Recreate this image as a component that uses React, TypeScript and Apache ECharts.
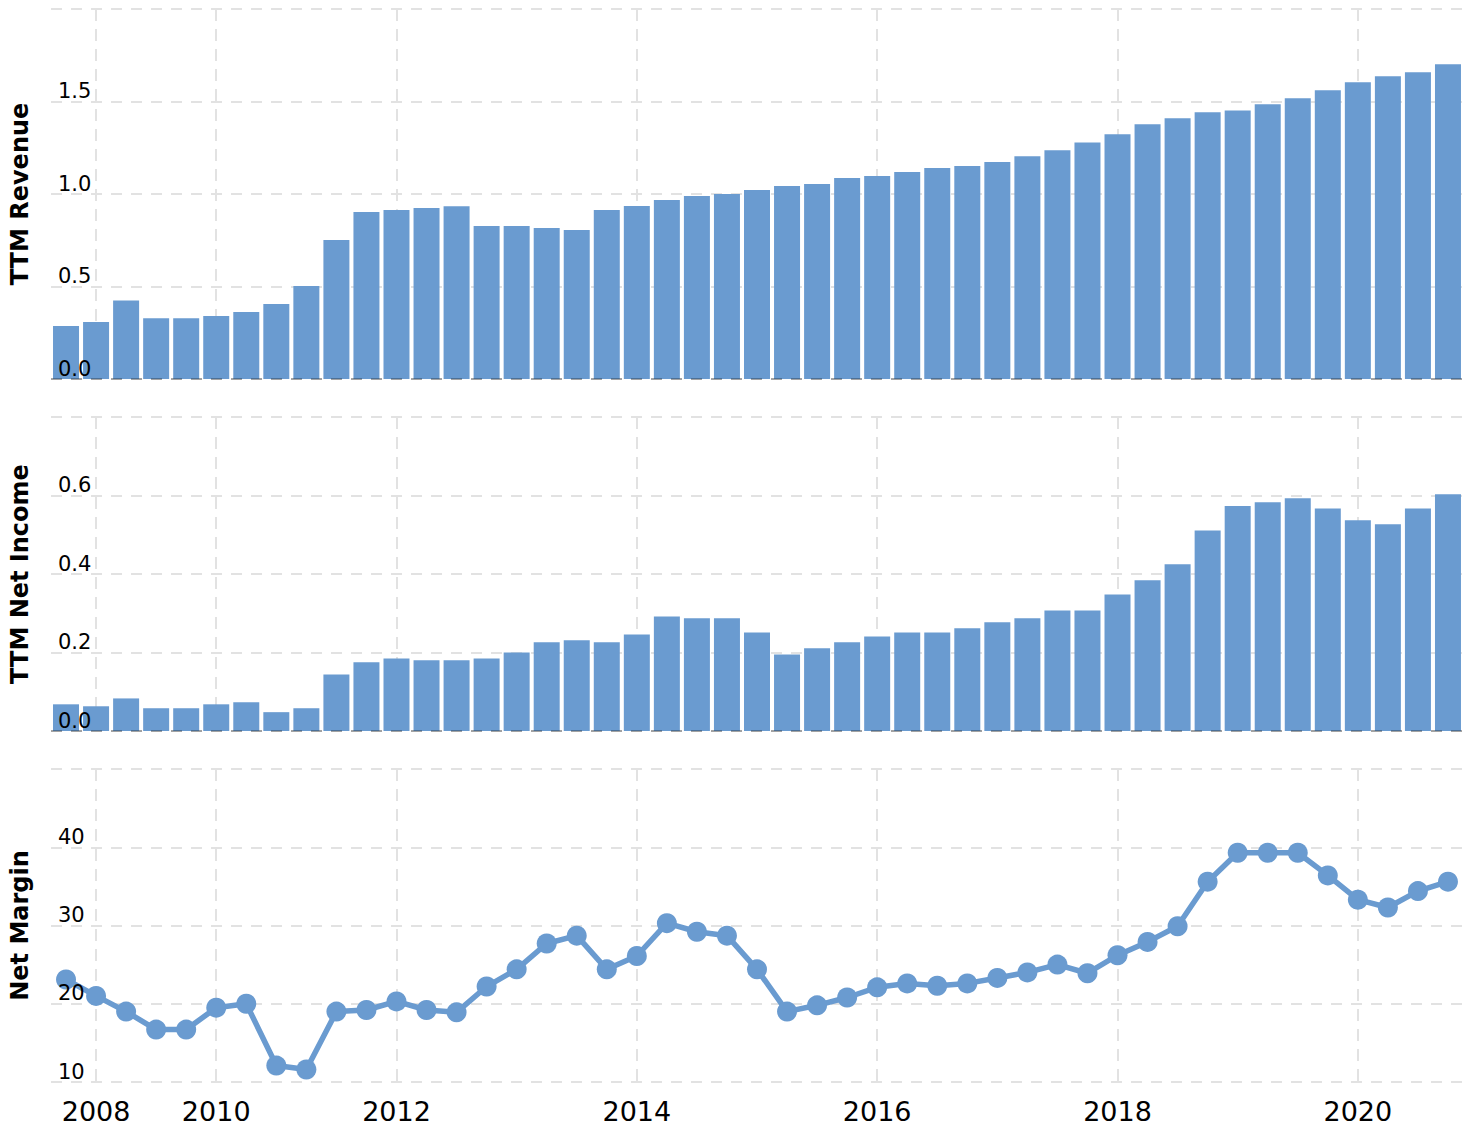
import React, { useEffect, useRef } from "react";
import * as echarts from "echarts";

const categories = [
  "2007-09-30", "2007-12-31", "2008-06-30", "2008-12-31", "2009-06-30", "2009-12-31",
  "2010-06-30", "2010-12-31", "2011-03-31", "2011-06-30", "2011-09-30", "2011-12-31",
  "2012-03-31", "2012-06-30", "2012-09-30", "2012-12-31",
  "2013-03-31", "2013-06-30", "2013-09-30", "2013-12-31",
  "2014-03-31", "2014-06-30", "2014-09-30", "2014-12-31",
  "2015-03-31", "2015-06-30", "2015-09-30", "2015-12-31",
  "2016-03-31", "2016-06-30", "2016-09-30", "2016-12-31",
  "2017-03-31", "2017-06-30", "2017-09-30", "2017-12-31",
  "2018-03-31", "2018-06-30", "2018-09-30", "2018-12-31",
  "2019-03-31", "2019-06-30", "2019-09-30", "2019-12-31",
  "2020-03-31", "2020-06-30", "2020-09-30",
];

const revenue = [
  0.286, 0.308, 0.425, 0.328, 0.328, 0.341, 0.362, 0.405, 0.503, 0.751,
  0.903, 0.914, 0.924, 0.934, 0.827, 0.827, 0.816, 0.805, 0.914, 0.935,
  0.968, 0.989, 1.0, 1.022, 1.043, 1.054, 1.086, 1.097, 1.119, 1.141,
  1.151, 1.173, 1.204, 1.236, 1.279, 1.323, 1.377, 1.409, 1.442, 1.452,
  1.485, 1.517, 1.561, 1.604, 1.636, 1.658, 1.701,
];

const netIncome = [
  0.068, 0.063, 0.083, 0.058, 0.058, 0.068, 0.073, 0.048, 0.058, 0.144,
  0.175, 0.185, 0.18, 0.18, 0.185, 0.2, 0.226, 0.231, 0.226, 0.246,
  0.292, 0.287, 0.287, 0.251, 0.195, 0.211, 0.226, 0.241, 0.251, 0.251,
  0.262, 0.277, 0.287, 0.307, 0.307, 0.348, 0.384, 0.425, 0.511, 0.573,
  0.583, 0.593, 0.567, 0.537, 0.527, 0.567, 0.603,
];

const netMargin = [
  23.1, 21.0, 19.0, 16.7, 16.7, 19.5, 20.0, 12.1, 11.6, 19.0,
  19.2, 20.3, 19.2, 18.9, 22.2, 24.4, 27.7, 28.7, 24.4, 26.1,
  30.3, 29.2, 28.7, 24.4, 19.0, 19.8, 20.8, 22.1, 22.6, 22.3,
  22.6, 23.3, 24.0, 25.0, 23.9, 26.2, 27.9, 29.9, 35.6, 39.3,
  39.3, 39.3, 36.4, 33.3, 32.3, 34.4, 35.6,
];

const xTickIndices = [1, 5, 11, 19, 27, 35, 43];
const xTickLabels = ["2008", "2010", "2012", "2014", "2016", "2018", "2020"];

const panelNames = ["TTM Revenue", "TTM Net Income", "Net Margin"];
const yMins = [0, 0, 10];
const yMaxs = [2, 0.8, 50];
const yIntervals = [0.5, 0.2, 10];
const yDecimals = [1, 1, 0];

const BLUE = "#6a9bd0";
const GRID_COLOR = "#e2e2e2";
const FONT = "DejaVu Sans";

export default function App() {
  const ref = useRef<HTMLDivElement>(null);

  useEffect(() => {
    if (!ref.current) return;
    const chart = echarts.init(ref.current, null, { renderer: "svg" });

    const grids = [
      { left: 50, right: 9, top: 9, height: 370 },
      { left: 50, right: 9, top: 417, height: 314 },
      { left: 50, right: 9, top: 769, height: 313 },
    ];

    const isTick = (index: number) => xTickIndices.indexOf(index) >= 0;
    const dashed = { color: GRID_COLOR, width: 2, type: [11, 9] as any };

    const xAxes = grids.map((_, i) => ({
      type: "category",
      gridIndex: i,
      data: categories,
      boundaryGap: true,
      axisLine: { show: false },
      axisTick: { show: false },
      axisLabel: {
        show: i === 2,
        interval: (index: number) => isTick(index),
        formatter: (_v: string, index: number) => {
          const k = xTickIndices.indexOf(index);
          return k >= 0 ? xTickLabels[k] : "";
        },
        fontSize: 27,
        fontFamily: FONT,
        color: "#000",
        margin: 16,
      },
      splitLine: {
        show: true,
        interval: (index: number) => isTick(index),
        alignWithLabel: true,
        lineStyle: { color: GRID_COLOR, width: 2, type: [12, 8] },
      },
    }));

    const yAxes: any[] = [];
    grids.forEach((_, i) => {
      yAxes.push({
        type: "value",
        gridIndex: i,
        position: "left",
        min: yMins[i],
        max: yMaxs[i],
        interval: yIntervals[i],
        name: panelNames[i],
        nameLocation: "middle",
        nameRotate: 90,
        nameGap: 19,
        nameTextStyle: {
          fontSize: 24,
          fontWeight: "bold",
          fontFamily: FONT,
          color: "#000",
        },
        axisLine: { show: false },
        axisTick: { show: false },
        axisLabel: { show: false },
        splitLine: { show: true, lineStyle: dashed },
      });
      yAxes.push({
        type: "value",
        gridIndex: i,
        position: "left",
        offset: 0,
        min: yMins[i],
        max: yMaxs[i],
        interval: yIntervals[i],
        z: 6,
        axisLine: { show: false, onZero: false },
        axisTick: { show: false },
        splitLine: { show: false },
        axisLabel: {
          inside: true,
          showMaxLabel: false,
          margin: 7,
          verticalAlign: "bottom",
          fontSize: 21,
          fontFamily: FONT,
          color: "#000",
          formatter: (v: number) => v.toFixed(yDecimals[i]),
        },
      });
    });

    const zeroLine = {
      silent: true,
      symbol: ["none", "none"],
      label: { show: false },
      lineStyle: { color: "rgba(0,0,0,0.28)", width: 2, type: [11, 9] },
      data: [{ yAxis: 0 }],
      animation: false,
    };

    chart.setOption({
      animation: false,
      grid: grids,
      xAxis: xAxes,
      yAxis: yAxes,
      series: [
        {
          type: "bar",
          xAxisIndex: 0,
          yAxisIndex: 0,
          data: revenue,
          barWidth: 26,
          itemStyle: { color: BLUE },
          markLine: zeroLine,
        },
        {
          type: "bar",
          xAxisIndex: 1,
          yAxisIndex: 2,
          data: netIncome,
          barWidth: 26,
          itemStyle: { color: BLUE },
          markLine: zeroLine,
        },
        {
          type: "line",
          xAxisIndex: 2,
          yAxisIndex: 4,
          data: netMargin,
          symbol: "circle",
          symbolSize: 20,
          lineStyle: { color: BLUE, width: 5.5 },
          itemStyle: { color: BLUE },
        },
      ],
    });

    return () => chart.dispose();
  }, []);

  return (
    <div
      ref={ref}
      style={{ position: "fixed", left: 0, top: 0, width: 1472, height: 1128, background: "#fff" }}
    />
  );
}
